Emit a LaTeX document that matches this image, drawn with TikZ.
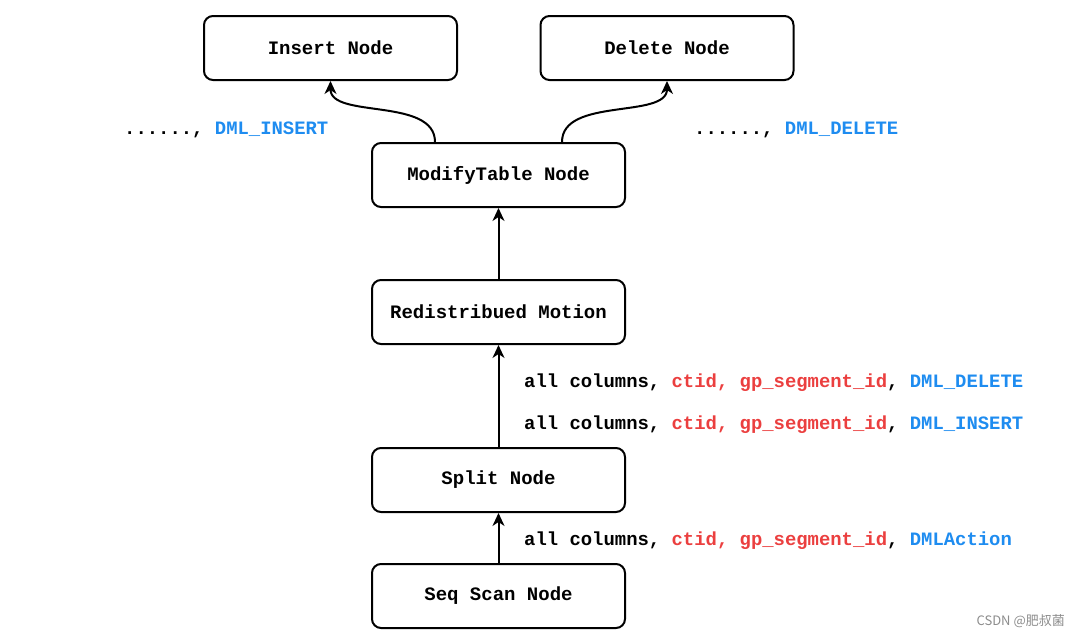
\documentclass[tikz,border=0pt]{standalone}
\usepackage{fontspec}
\setmonofont{Liberation Mono}
\newfontfamily\cjk{Noto Sans CJK SC}
\usetikzlibrary{arrows.meta}
\definecolor{lblred}{HTML}{EB3F3F}
\definecolor{lblblue}{HTML}{1E8CF0}
\tikzset{
  box/.style={draw=black, line width=2pt, rounded corners=9pt, minimum width=253pt, minimum height=64pt, inner sep=0pt, font=\fontsize{19}{22}\selectfont\ttfamily\bfseries},
  lbl/.style={anchor=base west, inner sep=0pt, font=\fontsize{18.9}{22}\selectfont\ttfamily\bfseries},
  arr/.style={line width=2pt, -{Stealth[length=13pt,width=12pt,inset=4pt]}},
}
\newcommand{\rd}[1]{\textcolor{lblred}{#1}}
\newcommand{\bl}[1]{\textcolor{lblblue}{#1}}
\begin{document}
\begin{tikzpicture}[x=1pt,y=-1pt]
\useasboundingbox (0,0) rectangle (1080,637);
\node[box] (ins) at (330.5,48) {Insert Node};
\node[box] (del) at (667,48) {Delete Node};
\node[box] (mt) at (498.5,175) {ModifyTable Node};
\node[box] (rm) at (498.5,312) {Redistribued Motion};
\node[box] (sp) at (498.5,480) {Split Node};
\node[box] (ss) at (498.5,596) {Seq Scan Node};

\draw[arr] (ss) -- (sp);
\draw[arr] (sp) -- (rm);
\draw[arr] (rm) -- (mt);
\draw[arr] ([xshift=-63.5pt]mt.north) .. controls +(0,-45) and +(0,38) .. (ins.south);
\draw[arr] ([xshift=63.5pt]mt.north) .. controls +(0,-45) and +(0,38) .. (del.south);

\node[lbl] (li) at (124,134) {......, \bl{DML\_INSERT}};
\node[lbl] (ld) at (694,134) {......, \bl{DML\_DELETE}};
\node[lbl] (l1) at (524,387) {all columns, \rd{ctid, gp\_segment\_id}, \bl{DML\_DELETE}};
\node[lbl] (l2) at (524,429) {all columns, \rd{ctid, gp\_segment\_id}, \bl{DML\_INSERT}};
\node[lbl] (l3) at (524,545) {all columns, \rd{ctid, gp\_segment\_id}, \bl{DMLAction}};

\node[anchor=base east, inner sep=0pt, text=black!45, font=\fontsize{13}{15}\selectfont\cjk] (wm) at (1065,625) {CSDN @肥叔菌};
\end{tikzpicture}
\end{document}
